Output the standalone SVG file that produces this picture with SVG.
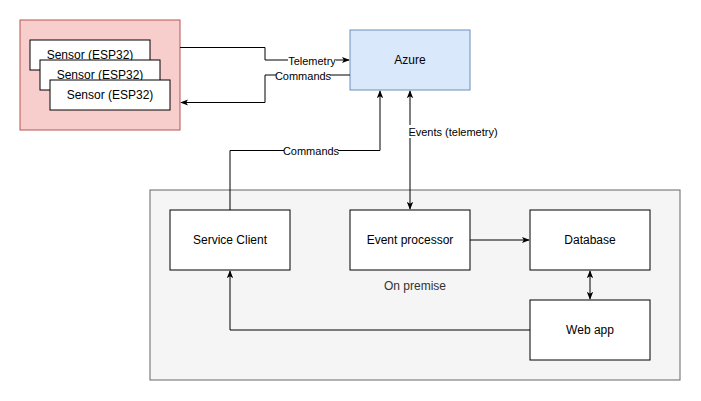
<svg xmlns="http://www.w3.org/2000/svg" width="701" height="401" viewBox="0 0 701 401">
<defs>
<marker id="arr" viewBox="0 0 10 10" refX="9" refY="5" markerWidth="8" markerHeight="8" markerUnits="userSpaceOnUse" orient="auto-start-reverse">
<path d="M0,1 L10,5 L0,9 L2.5,5 z" fill="#000"/>
</marker>
<style>
.box{fill:#fff;stroke:#000;stroke-width:1}
.t{font-family:"Liberation Sans",Arial,sans-serif;font-size:12px;fill:#000;text-anchor:middle;dominant-baseline:central}
.e{font-family:"Liberation Sans",Arial,sans-serif;font-size:11px;fill:#000;text-anchor:middle;dominant-baseline:central}
.c{fill:none;stroke:#000;stroke-width:1}
.lb{fill:#fff}
</style>
</defs>
<rect width="701" height="401" fill="#fff"/>
<g id="onpremise">
<rect x="150" y="190" width="530" height="190" fill="#f5f5f5" stroke="#666666"/>
<text x="415" y="286" class="t" style="fill:#333333">On premise</text>
</g>
<g id="sensors">
<rect x="20" y="20" width="160" height="110" fill="#f8cecc" stroke="#b85450"/>
</g>
<g id="sensor1">
<rect x="30" y="40" width="120" height="30" class="box"/>
<text x="90" y="55" class="t">Sensor (ESP32)</text>
</g>
<g id="sensor2">
<rect x="40" y="60" width="120" height="30" class="box"/>
<text x="100" y="75" class="t">Sensor (ESP32)</text>
</g>
<g id="sensor3">
<rect x="50" y="80" width="120" height="30" class="box"/>
<text x="110" y="95" class="t">Sensor (ESP32)</text>
</g>
<g id="azure">
<rect x="350" y="30" width="120" height="60" fill="#dae8fc" stroke="#6c8ebf"/>
<text x="410" y="60" class="t">Azure</text>
</g>
<g id="serviceclient">
<rect x="170" y="210" width="120" height="60" class="box"/>
<text x="230" y="240" class="t">Service Client</text>
</g>
<g id="eventprocessor">
<rect x="350" y="210" width="120" height="60" class="box"/>
<text x="410" y="240" class="t">Event processor</text>
</g>
<g id="database">
<rect x="530" y="210" width="120" height="60" class="box"/>
<text x="590" y="240" class="t">Database</text>
</g>
<g id="webapp">
<rect x="530" y="300" width="120" height="60" class="box"/>
<text x="590" y="330" class="t">Web app</text>
</g>
<g id="connectors">
<path class="c" d="M180,47.5 H265 V60 H349" marker-end="url(#arr)"/>
<rect class="lb" x="288" y="55" width="48" height="12"/>
<text x="312" y="61" class="e">Telemetry</text>
<path class="c" d="M350,75 H265 V102.5 H181" marker-end="url(#arr)"/>
<rect class="lb" x="276" y="70" width="54" height="12"/>
<text x="303" y="76" class="e">Commands</text>
<path class="c" d="M230,210 V150.5 H380 V91" marker-end="url(#arr)"/>
<rect class="lb" x="284" y="145" width="54" height="12"/>
<text x="311" y="151" class="e">Commands</text>
<path class="c" d="M410,91 V209" marker-start="url(#arr)" marker-end="url(#arr)"/>
<rect class="lb" x="407" y="125" width="92" height="13"/>
<text x="453" y="131.5" class="e">Events (telemetry)</text>
<path class="c" d="M470,240 H529" marker-end="url(#arr)"/>
<path class="c" d="M590,271 V299" marker-start="url(#arr)" marker-end="url(#arr)"/>
<path class="c" d="M530,330 H230 V271" marker-end="url(#arr)"/>
</g>
</svg>
